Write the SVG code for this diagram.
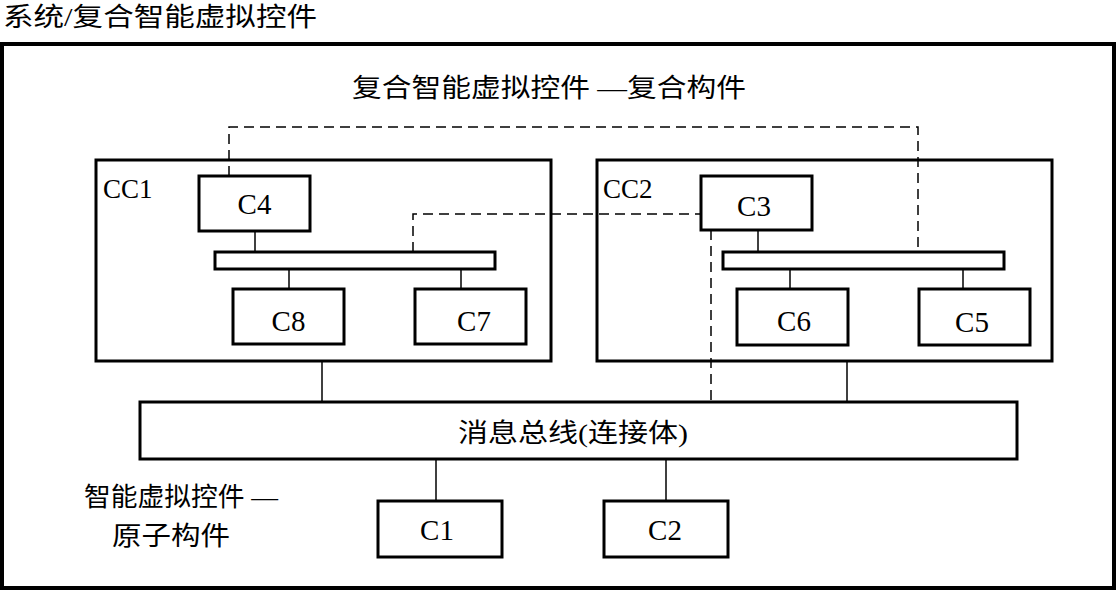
<svg xmlns="http://www.w3.org/2000/svg" width="1118" height="592" viewBox="0 0 1118 592">
<style>
.box{fill:#fff;stroke:#000;stroke-width:3}
.frame{fill:#fff;stroke:#000;stroke-width:4}
.ln{stroke:#000;stroke-width:1.5;fill:none}
.dash{stroke:#000;stroke-width:1.5;fill:none;stroke-dasharray:10 6}
.lat{font-family:"Liberation Serif",serif;font-size:29px;fill:#000}
.cc{font-family:"Liberation Serif",serif;font-size:27px;fill:#000}
.cjk{font-family:"Liberation Serif","Noto Sans CJK SC",serif;font-size:26px;fill:#000}
</style>
<rect width="1118" height="592" fill="#fff"/>
<text class="cjk" x="3" y="26" font-size="27" textLength="314" lengthAdjust="spacingAndGlyphs">系统/复合智能虚拟控件</text>
<g id="system"><rect class="frame" x="2" y="44" width="1112" height="544"/></g>
<text class="cjk" x="352" y="97" textLength="394" lengthAdjust="spacingAndGlyphs">复合智能虚拟控件 —复合构件</text>
<g id="connectors">
<line class="ln" x1="255" y1="231" x2="255" y2="252"/>
<line class="ln" x1="289" y1="269" x2="289" y2="289"/>
<line class="ln" x1="461" y1="269" x2="461" y2="289"/>
<line class="ln" x1="758" y1="230" x2="758" y2="252"/>
<line class="ln" x1="790" y1="269" x2="790" y2="289"/>
<line class="ln" x1="963" y1="269" x2="963" y2="289"/>
<line class="ln" x1="322" y1="361" x2="322" y2="402"/>
<line class="ln" x1="847" y1="361" x2="847" y2="402"/>
<line class="ln" x1="436" y1="459" x2="436" y2="501"/>
<line class="ln" x1="666" y1="459" x2="666" y2="501"/>
<polyline class="dash" points="229,176 229,127 918,127 918,252"/>
<polyline class="dash" points="413,252 413,214 701,214"/>
<line class="dash" x1="711" y1="230" x2="711" y2="402"/>
</g>
<g id="CC1">
<rect class="box" x="96" y="160" width="455" height="201" style="fill:none"/>
<text class="cc" x="103" y="198">CC1</text>
</g>
<g id="CC2">
<rect class="box" x="597" y="160" width="455" height="201" style="fill:none"/>
<text class="cc" x="603" y="198">CC2</text>
</g>
<g id="C4"><rect class="box" x="199" y="176" width="111" height="55"/><text class="lat" x="254.5" y="214" text-anchor="middle">C4</text></g>
<g id="bus1"><rect class="box" x="215" y="252" width="280" height="17"/></g>
<g id="C8"><rect class="box" x="233" y="289" width="111" height="55"/><text class="lat" x="288.5" y="331" text-anchor="middle">C8</text></g>
<g id="C7"><rect class="box" x="415" y="289" width="111" height="55"/><text class="lat" x="474" y="331" text-anchor="middle">C7</text></g>
<g id="C3"><rect class="box" x="701" y="176" width="111" height="54"/><text class="lat" x="754" y="216" text-anchor="middle">C3</text></g>
<g id="bus2"><rect class="box" x="723" y="252" width="281" height="17"/></g>
<g id="C6"><rect class="box" x="737" y="289" width="111" height="56"/><text class="lat" x="794" y="331" text-anchor="middle">C6</text></g>
<g id="C5"><rect class="box" x="919" y="289" width="111" height="56"/><text class="lat" x="972" y="332" text-anchor="middle">C5</text></g>
<g id="bus"><rect class="box" x="140" y="402" width="877" height="57"/><text class="cjk" x="458" y="442" textLength="230" lengthAdjust="spacingAndGlyphs">消息总线(连接体)</text></g>
<g id="C1"><rect class="box" x="378" y="501" width="124" height="56"/><text class="lat" x="437" y="540" text-anchor="middle">C1</text></g>
<g id="C2"><rect class="box" x="604" y="501" width="124" height="56"/><text class="lat" x="665" y="540" text-anchor="middle">C2</text></g>
<text class="cjk" x="84" y="506" textLength="194" lengthAdjust="spacingAndGlyphs">智能虚拟控件 —</text>
<text class="cjk" x="112" y="545" textLength="118" lengthAdjust="spacingAndGlyphs">原子构件</text>
</svg>
